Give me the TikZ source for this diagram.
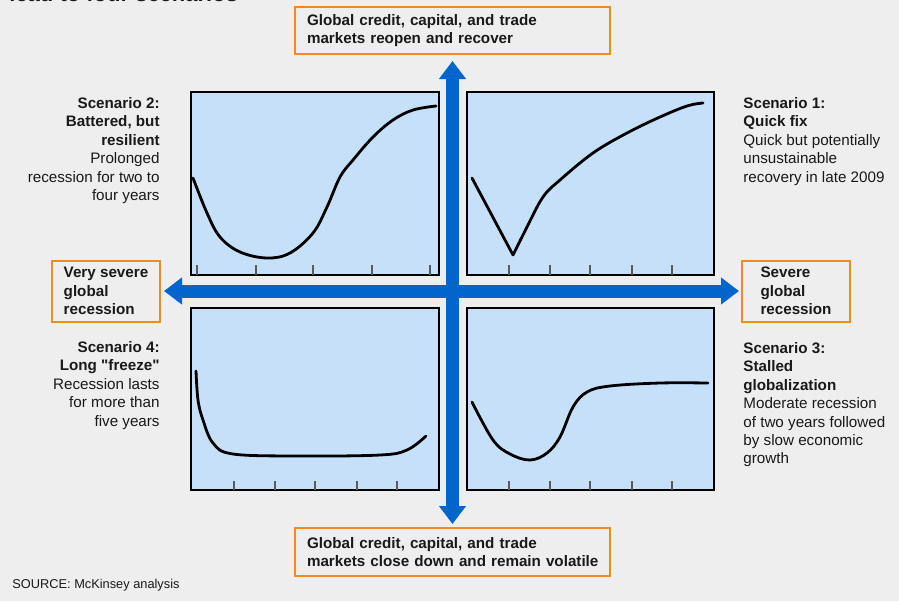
\documentclass[tikz,border=0pt]{standalone}
\usepackage{fontspec}
\setmainfont{Liberation Sans}[Ligatures=TeXOff]
\usetikzlibrary{arrows.meta}
\definecolor{bggrey}{HTML}{EEEEEE}
\definecolor{panelblue}{HTML}{C6E0FA}
\definecolor{axisblue}{HTML}{0066CC}
\definecolor{boxorange}{HTML}{F28A22}
\begin{document}
\begin{tikzpicture}[x=0.5pt,y=-0.5pt,
  every node/.style={font=\fontsize{7.6pt}{9.2pt}\selectfont,text=black!90},
  panel/.style={draw=black,line width=0.7pt,fill=panelblue,minimum width=124pt,minimum height=91.5pt,inner sep=0pt},
  axisbox/.style={draw=boxorange,line width=1pt,fill=bggrey,inner ysep=2pt,font=\fontsize{7.6pt}{9.2pt}\selectfont\bfseries},
  axis/.style={draw=axisblue,line width=6.5pt,{Triangle[length=9pt,width=13pt]}-{Triangle[length=9pt,width=13pt]}},
  curve/.style={line width=1.4pt,line cap=round,line join=round},
  tick/.style={draw=black!65,line width=0.6pt},
  scen/.style={inner sep=0pt}]
\fill[bggrey] (0,0) rectangle (899,601);
\clip (0,0) rectangle (899,601);
\node[anchor=base west,inner sep=0pt,font=\fontsize{11pt}{13pt}\selectfont\bfseries] (title) at (9,1.5) {lead to four scenarios};
% the four panels
\node[panel] (p2) at (315,183.5) {};
\node[panel,minimum width=123.5pt] (p1) at (590.5,183.5) {};
\node[panel,minimum height=91pt] (p4) at (315,399) {};
\node[panel,minimum width=123.5pt,minimum height=91pt] (p3) at (590.5,399) {};
\foreach \x in {197,256,313,372,430} \draw[tick] (\x,265) -- (\x,275);
\foreach \x in {509,550,590,632,672} \draw[tick] (\x,265) -- (\x,275);
\foreach \x in {234,275,315,357,397} \draw[tick] (\x,481) -- (\x,490);
\foreach \x in {509,550,590,632,672} \draw[tick] (\x,481) -- (\x,490);
% curves
\draw[curve] plot[smooth,tension=0.6] coordinates {(193,178) (207,213) (220,237) (240,252) (267,258) (290,253) (313,233) (327,207) (340,177) (353,160) (373,137) (393,120) (413,110) (436,106)};
\draw[curve] (472,178) -- (513,255) plot[smooth,tension=0.6] coordinates {(513,255) (527,227) (543,197) (560,180) (593,153) (627,133) (660,117) (687,106) (703,103)};
\draw[curve] plot[smooth,tension=0.6] coordinates {(196,371) (198,400) (203,420) (213,443) (233,454) (300,456) (380,455) (407,450) (426,436)};
\draw[curve] plot[smooth,tension=0.6] coordinates {(472,402) (493,440) (510,454) (530,460) (547,453) (560,437) (573,407) (587,392) (610,386) (660,383) (708,383)};
% axis boxes
\node[axisbox,text width=145.5pt,align=left,inner xsep=6pt,minimum height=23.5pt] (up) at (452.5,30.5) {Global credit, capital, and trade\\markets reopen and recover};
\node[axisbox,text width=145.5pt,align=left,inner xsep=6pt,minimum height=24pt] (down) at (452.5,552) {Global credit, capital, and trade\\\mbox{markets close down and remain volatile}};
\node[axisbox,align=left,minimum width=54pt,minimum height=30.5pt] (severe2) at (106,291) {Very severe\\global\\recession};
\node[axisbox,align=left,minimum width=54pt,minimum height=30.5pt] (severe1) at (796,291) {Severe\\global\\recession};
\draw[axis,shorten <=1.5pt,shorten >=3pt] (down) -- (up);
\draw[axis,shorten <=1.5pt,shorten >=1pt] (severe2) -- (severe1);
% scenario texts
\node[scen,anchor=north east,align=right] (s2) at (160,97) {\textbf{Scenario 2:}\\\textbf{Battered, but}\\\textbf{resilient}\\Prolonged\\recession for two to\\four years};
\node[scen,anchor=north west,align=left] (s1) at (743,97) {\textbf{Scenario 1:}\\\textbf{Quick fix}\\Quick but potentially\\unsustainable\\recovery in late 2009};
\node[scen,anchor=north east,align=right] (s4) at (160,341) {\textbf{Scenario 4:}\\\textbf{Long "freeze"}\\Recession lasts\\for more than\\five years};
\node[scen,anchor=north west,align=left] (s3) at (743,342) {\textbf{Scenario 3:}\\\textbf{Stalled}\\\textbf{globalization}\\Moderate recession\\of two years followed\\by slow economic\\growth};
\node[scen,anchor=base west,font=\fontsize{6.4pt}{7.5pt}\selectfont] (src) at (12,588) {SOURCE: McKinsey analysis};
\end{tikzpicture}
\end{document}
